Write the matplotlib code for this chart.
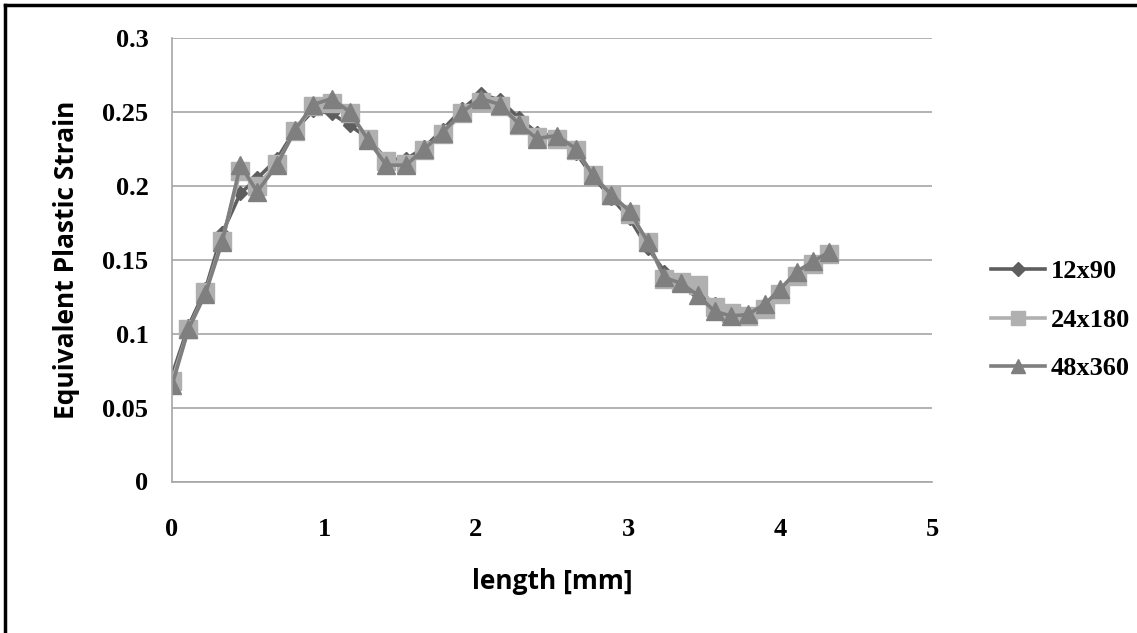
import matplotlib.pyplot as plt
from matplotlib.lines import Line2D

# data
x_48 = [0, 0.108, 0.22, 0.33, 0.45, 0.56, 0.69, 0.81, 0.93, 1.05, 1.17, 1.29, 1.41, 1.54,
        1.66, 1.78, 1.91, 2.03, 2.16, 2.28, 2.40, 2.53, 2.66, 2.77, 2.89, 3.01, 3.13, 3.24,
        3.35, 3.46, 3.57, 3.68, 3.79, 3.90, 4.00, 4.11, 4.22, 4.32]
y_48 = [0.065, 0.103, 0.127, 0.162, 0.214, 0.196, 0.214, 0.238, 0.255, 0.259, 0.250, 0.231,
        0.214, 0.214, 0.225, 0.236, 0.250, 0.259, 0.255, 0.242, 0.232, 0.234, 0.225, 0.207,
        0.194, 0.183, 0.162, 0.138, 0.134, 0.126, 0.115, 0.112, 0.113, 0.120, 0.130, 0.142,
        0.149, 0.155]

x_24 = x_48
y_24 = [0.068, 0.103, 0.128, 0.163, 0.210, 0.200, 0.215, 0.237, 0.254, 0.256, 0.249, 0.232,
        0.217, 0.215, 0.224, 0.235, 0.249, 0.257, 0.254, 0.241, 0.233, 0.232, 0.224, 0.207,
        0.194, 0.181, 0.162, 0.137, 0.135, 0.133, 0.118, 0.114, 0.112, 0.117, 0.127, 0.139,
        0.147, 0.154]

x_12 = x_48
y_12 = [0.072, 0.105, 0.130, 0.168, 0.195, 0.205, 0.218, 0.238, 0.251, 0.249, 0.241, 0.232,
        0.218, 0.218, 0.226, 0.238, 0.252, 0.262, 0.258, 0.246, 0.236, 0.233, 0.222, 0.206,
        0.192, 0.178, 0.158, 0.142, 0.133, 0.127, 0.120, 0.114, 0.113, 0.119, 0.129, 0.141,
        0.148, 0.153]

series_names = ['12x90', '24x180', '48x360']
y_ticks = [0, 0.05, 0.1, 0.15, 0.2, 0.25, 0.3]
y_tick_labels = ['0', '0.05', '0.1', '0.15', '0.2', '0.25', '0.3']
x_ticks = [0, 1, 2, 3, 4, 5]

c12 = '#5e5e5e'
c24 = '#b0b0b0'
c48 = '#7f7f7f'

tick_font = {'family': 'Liberation Serif', 'weight': 'bold', 'size': 19}

fig = plt.figure(figsize=(11.37, 6.33), dpi=100)
ax = fig.add_axes([172/1137, 1 - 481.5/633, (932-172)/1137, (481.5-38)/633])

ax.plot(x_12, y_12, color=c12, lw=2.6, marker='D', ms=7, label=series_names[0])
ax.plot(x_24, y_24, color=c24, lw=2.6, marker='s', ms=13, label=series_names[1])
ax.plot(x_48, y_48, color=c48, lw=2.6, marker='^', ms=13, label=series_names[2])

ax.set_xlim(0, 5)
ax.set_ylim(0, 0.3)
ax.set_yticks(y_ticks)
ax.set_yticklabels(y_tick_labels)
ax.set_xticks(x_ticks)
ax.grid(axis='y', color='#a6a6a6', lw=1.2)
ax.set_axisbelow(True)
for s in ['top', 'right']:
    ax.spines[s].set_visible(False)
for s in ['left', 'bottom']:
    ax.spines[s].set_color('#a6a6a6')
    ax.spines[s].set_linewidth(1.2)
ax.tick_params(length=0)
ax.tick_params(axis='y', pad=17)
ax.tick_params(axis='x', pad=26)
for lab in ax.get_xticklabels() + ax.get_yticklabels():
    lab.set_fontproperties(tick_font)

ax.set_xlabel('length [mm]', fontfamily='Open Sans', fontweight='bold', fontsize=19, labelpad=20)
ax.set_ylabel('Equivalent Plastic Strain', fontfamily='Open Sans', fontweight='bold',
              fontsize=19, labelpad=16)

handles = [Line2D([], [], color=c12, lw=2.6, marker='D', ms=7),
           Line2D([], [], color=c24, lw=2.6, marker='s', ms=10),
           Line2D([], [], color=c48, lw=2.6, marker='^', ms=10)]
fig.legend(handles, series_names, loc='center left', bbox_to_anchor=(978/1137, 1 - 320/633),
           frameon=False, borderpad=0, handlelength=2.05, handletextpad=0.2, labelspacing=0.95,
           prop=tick_font)

# outer frame (only left/top visible)
fig.add_artist(Line2D([5/1137, 5/1137], [0, 1 - 5/633], color='black', lw=2.5))
fig.add_artist(Line2D([5/1137, 1], [1 - 5/633, 1 - 5/633], color='black', lw=2.5))

fig.savefig('out.png', dpi=100)
